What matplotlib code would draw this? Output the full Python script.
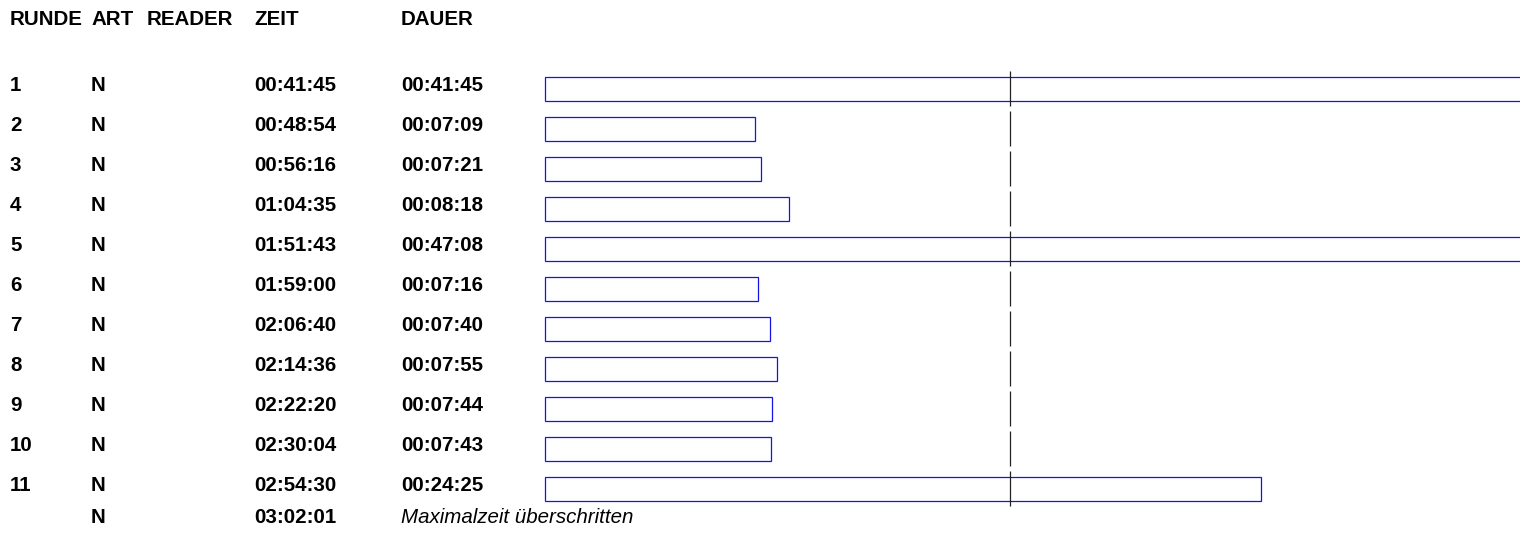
import matplotlib
matplotlib.use("Agg")
import matplotlib.pyplot as plt
import matplotlib.transforms as mtransforms

plt.rcParams['font.family'] = ['Liberation Sans', 'DejaVu Sans']

headers = ["RUNDE", "ART", "READER", "ZEIT", "DAUER"]
runden = ["1", "2", "3", "4", "5", "6", "7", "8", "9", "10", "11"]
art = ["N"] * 11
zeit = ["00:41:45", "00:48:54", "00:56:16", "01:04:35", "01:51:43", "01:59:00",
        "02:06:40", "02:14:36", "02:22:20", "02:30:04", "02:54:30"]
dauer = ["00:41:45", "00:07:09", "00:07:21", "00:08:18", "00:47:08", "00:07:16",
         "00:07:40", "00:07:55", "00:07:44", "00:07:43", "00:24:25"]
last_art = "N"
last_zeit = "03:02:01"
last_note = "Maximalzeit überschritten"


def to_sec(s):
    h, m, sec = s.split(":")
    return int(h) * 3600 + int(m) * 60 + int(sec)


dauer_s = [to_sec(d) for d in dauer]
mittel = sum(dauer_s) / len(dauer_s)

W, H = 1520, 536
fig = plt.figure(figsize=(W / 100, H / 100), dpi=100)
ax = fig.add_axes([0, 0, 1, 1])
ax.axis("off")

# bar area starts at pixel 545, ~0.489 px per second
x0_px = 545
px_per_s = 0.489
ax.set_xlim(-x0_px / px_per_s, (W - x0_px) / px_per_s)
# row r centred at pixel 89 + 40 r
ax.set_ylim((H - 89) / 40, -89 / 40)

rows = list(range(len(runden)))
ax.barh(rows, dauer_s, left=0, height=0.6, color="white",
        edgecolor="#1414e6", linewidth=0.9)
for r in rows:
    ax.vlines(mittel, r - 0.45, r + 0.43, color="#222222", linewidth=0.9)

tr = mtransforms.blended_transform_factory(fig.transFigure, ax.transData)
col_x = [10, 91, 147, 254, 401]
fs = 14.8

for x, h in zip(col_x, headers):
    ax.text(x / W, -1.74, h, transform=tr, fontsize=fs, fontweight="bold",
            va="center", ha="left")

for r in rows:
    vals = [runden[r], art[r], "", zeit[r], dauer[r]]
    for x, v in zip(col_x, vals):
        ax.text(x / W, r - 0.1, v, transform=tr, fontsize=fs,
                fontweight="bold", va="center", ha="left")

yl = len(rows) - 0.28
ax.text(col_x[1] / W, yl, last_art, transform=tr, fontsize=fs,
        fontweight="bold", va="center", ha="left")
ax.text(col_x[3] / W, yl, last_zeit, transform=tr, fontsize=fs,
        fontweight="bold", va="center", ha="left")
ax.text(col_x[4] / W, yl, last_note, transform=tr, fontsize=fs,
        style="italic", va="center", ha="left")

fig.savefig("out.png", dpi=100)
